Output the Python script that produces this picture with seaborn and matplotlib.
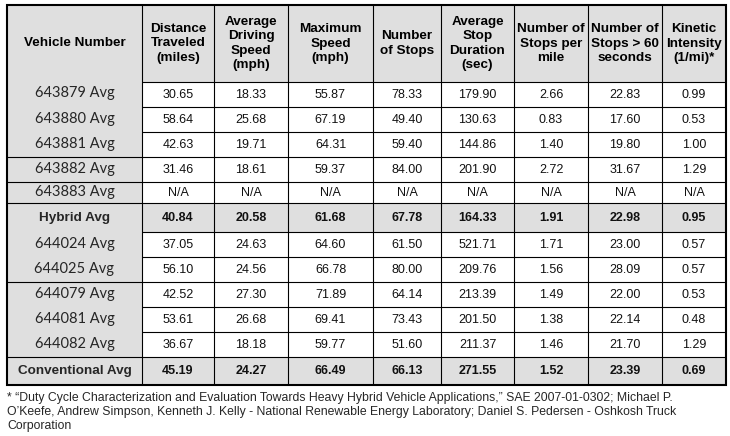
import numpy as np
import pandas as pd
import matplotlib.pyplot as plt
from matplotlib.colors import ListedColormap
import seaborn as sns

# table data
vehicles = ["643879 Avg", "643880 Avg", "643881 Avg", "643882 Avg", "643883 Avg", "Hybrid Avg",
            "644024 Avg", "644025 Avg", "644079 Avg", "644081 Avg", "644082 Avg", "Conventional Avg"]
headers = ["Vehicle Number", "Distance\nTraveled\n(miles)", "Average\nDriving\nSpeed\n(mph)",
           "Maximum\nSpeed\n(mph)", "Number\nof Stops", "Average\nStop\nDuration\n(sec)",
           "Number of\nStops per\nmile", "Number of\nStops > 60\nseconds", "Kinetic\nIntensity\n(1/mi)*"]
nan = np.nan
distance = [30.65, 58.64, 42.63, 31.46, nan, 40.84, 37.05, 56.10, 42.52, 53.61, 36.67, 45.19]
avg_speed = [18.33, 25.68, 19.71, 18.61, nan, 20.58, 24.63, 24.56, 27.30, 26.68, 18.18, 24.27]
max_speed = [55.87, 67.19, 64.31, 59.37, nan, 61.68, 64.60, 66.78, 71.89, 69.41, 59.77, 66.49]
stops = [78.33, 49.40, 59.40, 84.00, nan, 67.78, 61.50, 80.00, 64.14, 73.43, 51.60, 66.13]
stop_duration = [179.90, 130.63, 144.86, 201.90, nan, 164.33, 521.71, 209.76, 213.39, 201.50, 211.37, 271.55]
stops_per_mile = [2.66, 0.83, 1.40, 2.72, nan, 1.91, 1.71, 1.56, 1.49, 1.38, 1.46, 1.52]
stops_over_60 = [22.83, 17.60, 19.80, 31.67, nan, 22.98, 23.00, 28.09, 22.00, 22.14, 21.70, 23.39]
kinetic = [0.99, 0.53, 1.00, 1.29, nan, 0.95, 0.57, 0.57, 0.53, 0.48, 1.29, 0.69]
summary_rows = ["Hybrid Avg", "Conventional Avg"]
footnote = ("* \u201cDuty Cycle Characterization and Evaluation Towards Heavy Hybrid Vehicle Applications,\u201d "
            "SAE 2007-01-0302; Michael P.\nO\u2019Keefe, Andrew Simpson, Kenneth J. Kelly - National Renewable "
            "Energy Laboratory; Daniel S. Pedersen - Oshkosh Truck\nCorporation")

df = pd.DataFrame({
    headers[1]: distance, headers[2]: avg_speed, headers[3]: max_speed, headers[4]: stops,
    headers[5]: stop_duration, headers[6]: stops_per_mile, headers[7]: stops_over_60, headers[8]: kinetic,
}, index=vehicles)

# layout (pixels)
col_edges = np.array([7, 142, 214, 288, 373, 441, 514, 588, 662, 726])
row_edges = np.array([5, 82, 107, 132, 157, 182, 203, 232, 257, 282, 307, 332, 357, 385])
full_lines_above = ["643882 Avg", "643883 Avg", "Hybrid Avg", "644079 Avg", "Conventional Avg"]
grey = "#dfdfdf"

sns.set_theme(style="white")
plt.rcParams['font.family'] = ['Liberation Sans', 'DejaVu Sans']

fig = plt.figure(figsize=(7.3, 4.36), dpi=100)
ax = fig.add_axes([0, 0, 1, 1])
ax.set_xlim(0, 730)
ax.set_ylim(436, 0)
ax.axis('off')

# cell shading
shade = np.zeros((len(vehicles) + 1, len(headers)))
shade[0, :] = 1
shade[:, 0] = 1
for i, v in enumerate(vehicles):
    if v in summary_rows:
        shade[i + 1, :] = 1
ax.pcolormesh(col_edges, row_edges, shade, cmap=ListedColormap(["white", grey]), vmin=0, vmax=1)

# grid lines
lw = 0.8
for x in col_edges[1:-1]:
    ax.plot([x, x], [row_edges[0], row_edges[-1]], color="black", lw=lw)
for i, v in enumerate(vehicles):
    y = row_edges[i + 1]
    x0 = col_edges[0] if v in full_lines_above else col_edges[1]
    ax.plot([x0, col_edges[-1]], [y, y], color="black", lw=lw)
ax.add_patch(plt.Rectangle((col_edges[0], row_edges[0]), col_edges[-1] - col_edges[0],
                           row_edges[-1] - row_edges[0], fill=False, ec="black", lw=1.5))

# header text
xc = (col_edges[:-1] + col_edges[1:]) / 2
yc = (row_edges[:-1] + row_edges[1:]) / 2
for j, h in enumerate(headers):
    ax.text(xc[j], yc[0], h, ha="center", va="center", fontsize=9.7, fontweight="bold",
            linespacing=1.25, color="black")

# body text
for i, v in enumerate(vehicles):
    bold = v in summary_rows
    if bold:
        ax.text(xc[0], yc[i + 1], v, ha="center", va="center", fontsize=9.7, fontweight="bold")
    else:
        ax.text(xc[0], yc[i + 1] - 1, v, ha="center", va="center", fontsize=10.5, family="Lato")
    for j, val in enumerate(df.loc[v].values):
        s = "N/A" if np.isnan(val) else f"{val:.2f}"
        ax.text(xc[j + 1], yc[i + 1], s, ha="center", va="center", fontsize=9,
                fontweight="bold" if bold else "normal", color="#111111")

ax.text(col_edges[0], 392, footnote, ha="left", va="top", fontsize=8.8, linespacing=1.22)

fig.savefig("out.png", dpi=100)
